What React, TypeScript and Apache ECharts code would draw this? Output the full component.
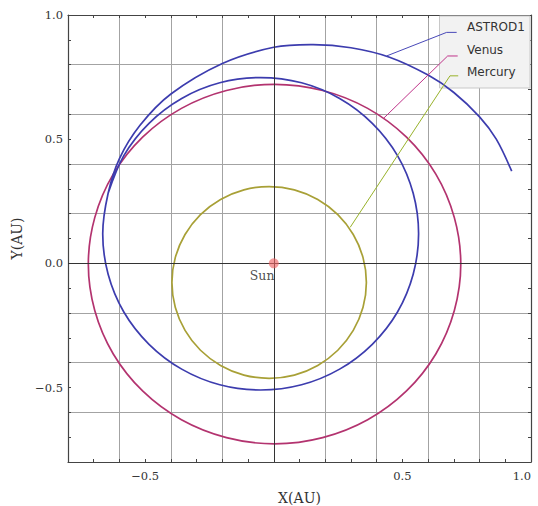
import React, { useEffect, useRef } from "react";
import * as echarts from "echarts";

// ---- data (AU) ----
const seriesNames = ["ASTROD1", "Venus", "Mercury"];

const astrod1Path: number[][] = [
  [0.925, 0.371], [0.865, 0.5], [0.8, 0.59], [0.7, 0.688], [0.6, 0.758],
  [0.45, 0.83], [0.3, 0.868], [0.153, 0.881], [0.0, 0.87], [-0.2, 0.805],
  [-0.4, 0.682], [-0.52, 0.556], [-0.6, 0.422], [-0.644, 0.282],
  [-0.665, 0.119], [-0.644, -0.044], [-0.583, -0.196], [-0.485, -0.326],
  [-0.358, -0.426], [-0.21, -0.489], [-0.051, -0.51], [0.108, -0.489],
  [0.256, -0.426], [0.383, -0.326], [0.481, -0.196], [0.542, -0.044],
  [0.563, 0.119], [0.542, 0.282], [0.481, 0.434], [0.383, 0.564],
  [0.256, 0.664], [0.108, 0.727], [-0.051, 0.748], [-0.21, 0.727],
  [-0.358, 0.664], [-0.485, 0.564], [-0.583, 0.434], [-0.644, 0.282],
];

const venusOrbit: number[][] = [
  [0.727, -0.003], [0.702, 0.184], [0.63, 0.359], [0.515, 0.509],
  [0.365, 0.624], [0.19, 0.696], [0.003, 0.721], [-0.184, 0.696],
  [-0.359, 0.624], [-0.509, 0.509], [-0.624, 0.359], [-0.696, 0.184],
  [-0.721, -0.003], [-0.696, -0.19], [-0.624, -0.365], [-0.509, -0.515],
  [-0.359, -0.63], [-0.184, -0.702], [0.003, -0.727], [0.19, -0.702],
  [0.365, -0.63], [0.515, -0.515], [0.63, -0.365], [0.702, -0.19],
  [0.727, -0.003],
];

const mercuryOrbit: number[][] = [
  [0.36, -0.077], [0.347, 0.023], [0.309, 0.116], [0.249, 0.196],
  [0.171, 0.257], [0.08, 0.296], [-0.018, 0.309], [-0.116, 0.296],
  [-0.207, 0.257], [-0.285, 0.196], [-0.345, 0.116], [-0.383, 0.023],
  [-0.396, -0.077], [-0.383, -0.177], [-0.345, -0.27], [-0.285, -0.35],
  [-0.207, -0.411], [-0.116, -0.45], [-0.018, -0.463], [0.08, -0.45],
  [0.171, -0.411], [0.249, -0.35], [0.309, -0.27], [0.347, -0.177],
  [0.36, -0.077],
];

const sunPoint: number[][] = [[0, 0]];

// legend call-out lines (legend entry -> curve), in AU
const astrod1Leader: number[][] = [[0.711, 0.93], [0.672, 0.93], [0.4385, 0.835]];
const venusLeader: number[][] = [[0.715, 0.835], [0.676, 0.835], [0.428, 0.585]];
const mercuryLeader: number[][] = [[0.717, 0.755], [0.685, 0.755], [0.297, 0.145]];

const axisMin = -0.8;
const axisMax = 1.0;
const xTickValues = [-0.5, 0.5, 1.0];
const xTickLabels = ["\u22120.5", "0.5", "1.0"];
const yTickValues = [-0.5, 0, 0.5, 1.0];
const yTickLabels = ["\u22120.5", "0.0", "0.5", "1.0"];

const colors = {
  astrod1: "#3c3cae",
  venus: "#b3336f",
  mercury: "#a8a036",
  astrod1Leader: "#4848b8",
  venusLeader: "#c0348a",
  mercuryLeader: "#98b22a",
};

const serif = '"DejaVu Serif", serif';
const sans = '"DejaVu Sans", sans-serif';

function labelFor(values: number[], labels: string[]) {
  return (v: number) => {
    for (let i = 0; i < values.length; i++) {
      if (Math.abs(v - values[i]) < 1e-6) return labels[i];
    }
    return "";
  };
}

const frameColor = "#444";

function tickAxis(position: string, extra: any = {}) {
  return {
    type: "value",
    position,
    min: axisMin,
    max: axisMax,
    interval: 0.1,
    axisLine: { show: true, onZero: false, lineStyle: { color: frameColor, width: 1.2 } },
    axisTick: { show: true, inside: true, length: 3, lineStyle: { color: frameColor, width: 1 } },
    axisLabel: { show: false },
    splitLine: { show: false },
    ...extra,
  };
}

function gridAxis(position: string) {
  return {
    type: "value",
    position,
    min: axisMin,
    max: axisMax,
    interval: 0.2,
    axisLine: { show: false },
    axisTick: { show: false },
    axisLabel: { show: false },
    splitLine: {
      show: true,
      showMinLine: false,
      showMaxLine: false,
      lineStyle: { color: "#a3a3a3", width: 1 },
    },
  };
}

function curveSeries(name: string, data: number[][], color: string, width: number) {
  const closed =
    data.length > 2 &&
    data[0][0] === data[data.length - 1][0] &&
    data[0][1] === data[data.length - 1][1];
  return {
    name,
    type: "custom",
    data,
    encode: { x: 0, y: 1 },
    silent: true,
    z: 3,
    renderItem: (params: any, api: any) => {
      if (params.dataIndex !== 0) return null;
      const src = closed ? data.slice(0, data.length - 1) : data;
      const pts = src.map((p) => api.coord(p));
      return {
        type: closed ? "polygon" : "polyline",
        shape: { points: pts, smooth: 0.34 },
        style: { stroke: color, lineWidth: width, fill: "none" },
      };
    },
  };
}

export default function App() {
  const ref = useRef<HTMLDivElement>(null);

  useEffect(() => {
    document.body.style.margin = "0";
    const chart = echarts.init(ref.current!, null, { renderer: "svg" });

    const leader = (data: number[][], color: string) => ({
      type: "line",
      data,
      smooth: false,
      showSymbol: false,
      symbol: "none",
      lineStyle: { color, width: 1 },
      silent: true,
      z: 4,
    });

    const tickLabelStyle = { fontFamily: serif, fontSize: 11.5, color: "#333" };

    const option: any = {
      animation: false,
      grid: { left: 68, right: 7, top: 15, bottom: 44, show: false, outerBoundsMode: "none" },
      xAxis: [
        tickAxis("bottom", {
          name: "X(AU)",
          nameLocation: "middle",
          nameGap: 29,
          nameTextStyle: { fontFamily: serif, fontSize: 14, color: "#333" },
          axisLabel: {
            show: true,
            formatter: labelFor(xTickValues, xTickLabels),
            ...tickLabelStyle,
            margin: 8,
            showMinLabel: true,
            showMaxLabel: true,
            alignMaxLabel: "right",
          },
        }),
        tickAxis("top"),
        gridAxis("bottom"),
      ],
      yAxis: [
        tickAxis("left", {
          name: "Y(AU)",
          nameLocation: "middle",
          nameGap: 42,
          nameTextStyle: { fontFamily: serif, fontSize: 14, color: "#333" },
          axisLabel: {
            show: true,
            formatter: labelFor(yTickValues, yTickLabels),
            ...tickLabelStyle,
            margin: 5,
            showMinLabel: true,
            showMaxLabel: true,
          },
        }),
        tickAxis("right"),
        gridAxis("left"),
      ],
      series: [
        {
          type: "line",
          data: [],
          silent: true,
          markLine: {
            silent: true,
            symbol: ["none", "none"],
            label: { show: false },
            lineStyle: { color: "#333", type: "solid", width: 1 },
            data: [{ xAxis: 0 }, { yAxis: 0 }],
          },
          z: 1,
        },
        curveSeries(seriesNames[1], venusOrbit, colors.venus, 1.7),
        curveSeries(seriesNames[2], mercuryOrbit, colors.mercury, 1.7),
        curveSeries(seriesNames[0], astrod1Path, colors.astrod1, 1.7),
        leader(astrod1Leader, colors.astrod1Leader),
        leader(venusLeader, colors.venusLeader),
        leader(mercuryLeader, colors.mercuryLeader),
        {
          type: "scatter",
          data: sunPoint,
          symbolSize: 10,
          itemStyle: { color: "rgba(238, 100, 100, 0.8)" },
          label: {
            show: true,
            formatter: "Sun",
            position: [-19, 11],
            fontFamily: serif,
            fontSize: 12.5,
            color: "#222",
          },
          silent: true,
          z: 5,
        },
      ],
      graphic: [
        {
          type: "rect",
          z: 1,
          shape: { x: 439.5, y: 16, width: 90.5, height: 72 },
          style: { fill: "#f2f2f2", stroke: "#c8c8c8", lineWidth: 1 },
          silent: true,
        },
        {
          type: "text",
          z: 6,
          x: 467,
          y: 27,
          style: { text: seriesNames[0], fontFamily: sans, fontSize: 12, fill: "#333", verticalAlign: "middle" },
        },
        {
          type: "text",
          z: 6,
          x: 467,
          y: 50,
          style: { text: seriesNames[1], fontFamily: sans, fontSize: 12, fill: "#333", verticalAlign: "middle" },
        },
        {
          type: "text",
          z: 6,
          x: 467,
          y: 72,
          style: { text: seriesNames[2], fontFamily: sans, fontSize: 12, fill: "#333", verticalAlign: "middle" },
        },
      ],
    };

    chart.setOption(option);
    return () => chart.dispose();
  }, []);

  return <div ref={ref} style={{ width: 538, height: 506 }} />;
}
